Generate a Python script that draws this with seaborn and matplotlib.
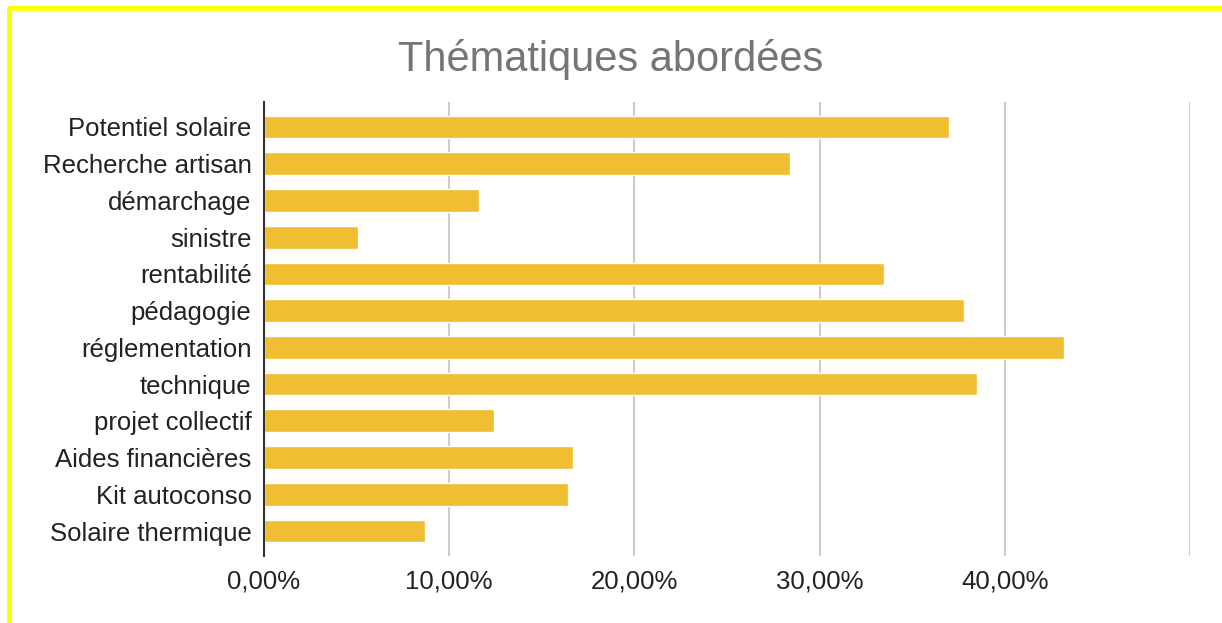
import matplotlib
matplotlib.use("Agg")
import matplotlib.pyplot as plt
import seaborn as sns
import pandas as pd
from matplotlib.lines import Line2D

# Data
themes = ["Potentiel solaire", "Recherche artisan", "démarchage", "sinistre",
          "rentabilité", "pédagogie", "réglementation", "technique",
          "projet collectif", "Aides financières", "Kit autoconso", "Solaire thermique"]
shares = [37.0, 28.4, 11.6, 5.1, 33.5, 37.8, 43.2, 38.5, 12.4, 16.7, 16.4, 8.7]
tick_values = [0, 10, 20, 30, 40, 50]
tick_labels = ["0,00%", "10,00%", "20,00%", "30,00%", "40,00%", ""]

df = pd.DataFrame({"theme": themes, "share": shares})

sns.set_style("white")
plt.rcParams['font.family'] = ['Liberation Sans', 'DejaVu Sans']

fig = plt.figure(figsize=(12.22, 6.23), dpi=100)
ax = fig.add_axes([264 / 1222, 1 - 556 / 623, (1190 - 264) / 1222, (556 - 102) / 623])

sns.barplot(data=df, x="share", y="theme", color="#F0BE32", saturation=1,
            width=0.62, ax=ax, zorder=3)

ax.set_xlim(0, 50)
ax.set_ylim(11.68, -0.68)
ax.set_xticks(tick_values)
ax.set_xticklabels(tick_labels, fontsize=18.5, color="#222222")
ax.tick_params(axis="y", labelsize=18.5, labelcolor="#222222", length=0, pad=9)
ax.tick_params(axis="x", length=0, pad=10)
ax.set_xlabel("")
ax.set_ylabel("")
ax.grid(axis="x", color="#CCCCCC", linewidth=1.5, zorder=0)
ax.set_axisbelow(True)
for side in ["top", "right", "bottom"]:
    ax.spines[side].set_visible(False)
ax.spines["left"].set_color("#333333")
ax.spines["left"].set_linewidth(1.5)
ax.spines["left"].set_zorder(4)

fig.suptitle("Thématiques abordées", fontsize=30, color="#757575", y=1 - 60 / 623, va="center")

# yellow frame on the left and top edges
fig.add_artist(Line2D([9 / 1222, 9 / 1222], [0, 1 - 8 / 623], transform=fig.transFigure,
                      color="#FFFF00", linewidth=3.5))
fig.add_artist(Line2D([9 / 1222, 1], [1 - 8 / 623, 1 - 8 / 623], transform=fig.transFigure,
                      color="#FFFF00", linewidth=3.5))

fig.savefig("out.png", dpi=100)
